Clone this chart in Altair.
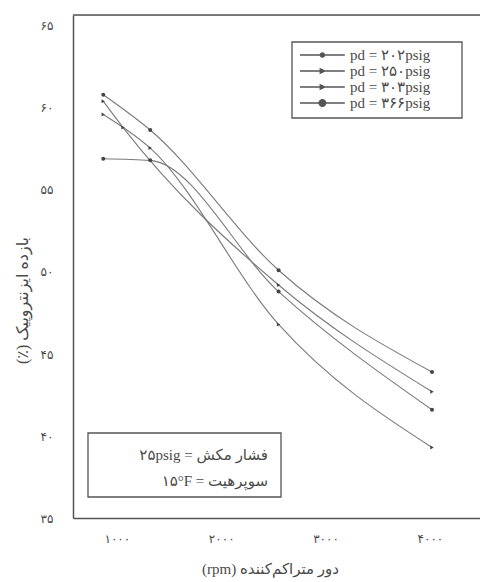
import altair as alt
import pandas as pd

# ---------------- data ----------------
series = ["pd = ۲۰۲psig", "pd = ۲۵۰psig", "pd = ۳۰۳psig", "pd = ۳۶۶psig"]

rpm_202 = [870, 1320, 2550, 4020]
eff_202 = [60.5, 58.35, 49.8, 43.6]

rpm_250 = [870, 1060, 2550, 4020]
eff_250 = [60.1, 58.5, 48.9, 42.4]

rpm_303 = [870, 1320, 2550, 4020]
eff_303 = [59.3, 57.25, 46.5, 39.0]

rpm_366 = [870, 1320, 2550, 4020]
eff_366 = [56.6, 56.5, 48.5, 41.3]

x_ticks = [1000, 2000, 3000, 4000]
y_ticks = [35, 40, 45, 50, 55, 60, 65]

notes = ["۲۵psig = فشار مکش", "۱۵°F = سوپرهیت"]

x_title = "(rpm) دور متراکم‌کننده"
y_title = "(٪) بازده ایزنتروپیک"

# ---------------- build table ----------------
rows = []
for name, xs, ys in zip(series,
                        [rpm_202, rpm_250, rpm_303, rpm_366],
                        [eff_202, eff_250, eff_303, eff_366]):
    for xv, yv in zip(xs, ys):
        rows.append({"series": name, "rpm": xv, "eff": yv})
df = pd.DataFrame(rows)

FONT = "Liberation Serif, DejaVu Sans, serif"
INK = "#4a4a4a"
LINE = "#7a7a7a"

def fa_digits(expr):
    s = expr
    for d, p in zip("0123456789", "۰۱۲۳۴۵۶۷۸۹"):
        s = f"replace({s}, regexp('{d}', 'g'), '{p}')"
    return s

label_expr = fa_digits("datum.label")

xscale = alt.Scale(domain=[580, 4480], nice=False, zero=False)
yscale = alt.Scale(domain=[34.7, 65.36], nice=False, zero=False)

x_axis = alt.Axis(values=x_ticks, format="d", labelExpr=label_expr, ticks=False,
                  grid=False, domainColor="#555", domainWidth=1.5,
                  labelPadding=15, labelFont=FONT, labelFontSize=12, labelColor=INK,
                  title=x_title, titleX=197, titleY=50, titleFont=FONT,
                  titleFontSize=15, titleFontWeight="normal", titleColor=INK,
                  titleAlign="center", titleBaseline="middle")
y_axis = alt.Axis(values=y_ticks, format="d", labelExpr=label_expr, ticks=False,
                  grid=False, domainColor="#555", domainWidth=1.5, labelOffset=5,
                  labelPadding=20, labelFont=FONT, labelFontSize=12, labelColor=INK,
                  title=y_title, titleX=-51, titleY=285, titleFont=FONT,
                  titleFontSize=16, titleFontWeight="normal", titleColor=INK,
                  titleAlign="center", titleBaseline="middle", titleAngle=270)

X = alt.X("rpm:Q", scale=xscale, axis=x_axis)
Y = alt.Y("eff:Q", scale=yscale, axis=y_axis)

lines = alt.Chart(df).mark_line(interpolate="monotone", color=LINE, strokeWidth=1.1).encode(
    x=X, y=Y, detail="series:N")

points = alt.Chart(df).mark_point(filled=True, opacity=1, color="#444", size=16).encode(
    x=X, y=Y,
    shape=alt.Shape("series:N", scale=alt.Scale(domain=series,
                    range=["circle", "triangle-right", "triangle-right", "circle"]),
                    legend=None))

bar = "M-1,-0.08H4.6V0.08H-1Z"
legend_paths = [
    bar + "M2.15,0A0.35,0.35,0,1,1,1.45,0A0.35,0.35,0,1,1,2.15,0Z",
    bar + "M1.45,-0.42L2.3,0L1.45,0.42Z",
    bar + "M1.45,-0.42L2.3,0L1.45,0.42Z",
    bar + "M2.3,0A0.5,0.5,0,1,1,1.3,0A0.5,0.5,0,1,1,2.3,0Z",
]

legend_box = alt.Chart(pd.DataFrame({"k": [0]})).mark_rect(
    fill="white", stroke="#555", strokeWidth=1.3).encode(
    x=alt.value(219), x2=alt.value(389), y=alt.value(27), y2=alt.value(103))

legend_layer = alt.Chart(df).mark_point(filled=True, opacity=0, color="#555").encode(
    x=X, y=Y,
    shape=alt.Shape("series:N", scale=alt.Scale(domain=series, range=legend_paths),
                    legend=alt.Legend(title=None, orient="none", legendX=227, legendY=32,
                                      symbolSize=256, symbolFillColor="#555",
                                      symbolStrokeWidth=0, symbolOpacity=1,
                                      labelFont=FONT, labelFontSize=15, labelColor=INK,
                                      labelOffset=34, padding=0, rowPadding=0)))

frame_top = alt.Chart(pd.DataFrame({"k": [0]})).mark_rule(color="#555", strokeWidth=1.5).encode(
    x=alt.value(0), x2=alt.value(407), y=alt.value(0))

note_box = alt.Chart(pd.DataFrame({"k": [0]})).mark_rect(
    fill="white", stroke="#555", strokeWidth=1.3).encode(
    x=alt.value(15), x2=alt.value(208), y=alt.value(418), y2=alt.value(482))

note1 = alt.Chart(pd.DataFrame({"t": [notes[0]]})).mark_text(
    align="right", baseline="middle", font=FONT, fontSize=15, color=INK).encode(
    x=alt.value(195), y=alt.value(440), text="t:N")
note2 = alt.Chart(pd.DataFrame({"t": [notes[1]]})).mark_text(
    align="right", baseline="middle", font=FONT, fontSize=15, color=INK).encode(
    x=alt.value(195), y=alt.value(466), text="t:N")

chart = alt.layer(frame_top, lines, points, legend_box, legend_layer, note_box, note1, note2).resolve_scale(
    shape="independent"
).properties(
    width=407, height=503,
    padding={"left": 73, "top": 15, "right": 0, "bottom": 64},
    autosize=alt.AutoSizeParams(type="none"),
).configure_view(stroke=None).configure(background="white")

chart.save("out.html", embed_options={"renderer": "svg", "actions": False})
